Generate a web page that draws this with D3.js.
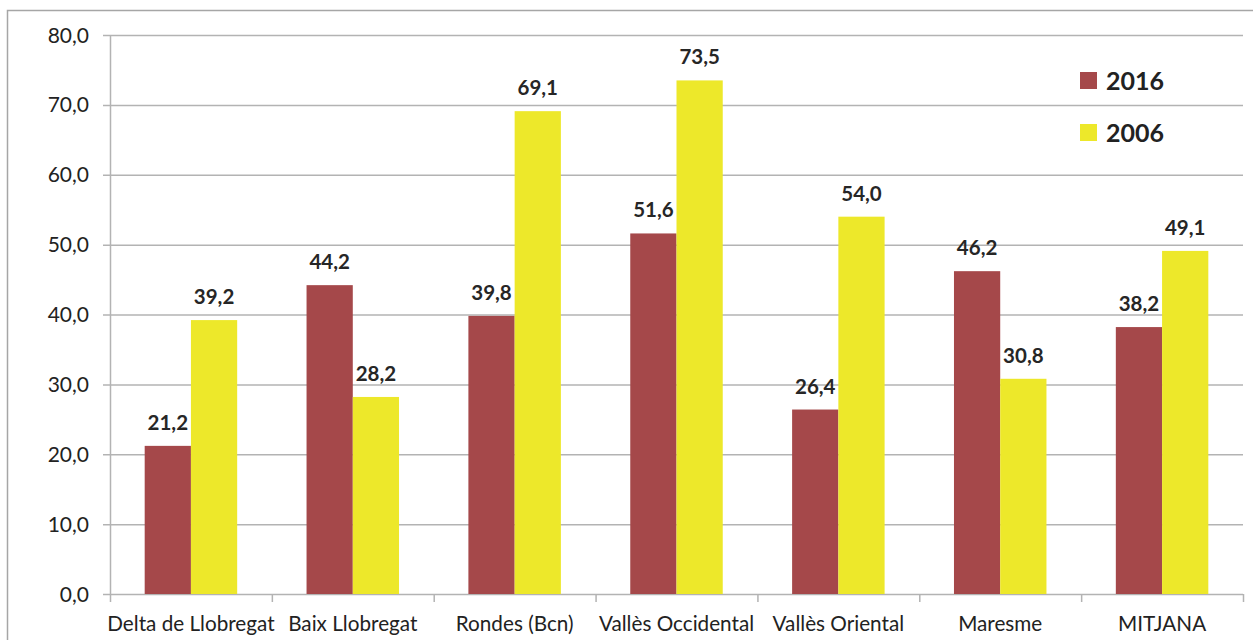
<!DOCTYPE html>
<html>
<head>
<meta charset="utf-8">
<script src="https://cdn.jsdelivr.net/npm/d3@7"></script>
<style>
  body { margin: 0; background: #fff; }
  svg { display: block; font-family: Lato, "Liberation Sans", sans-serif; }
</style>
</head>
<body>
<script>
// data
var categories = ["Delta de Llobregat", "Baix Llobregat", "Rondes (Bcn)", "Vallès Occidental", "Vallès Oriental", "Maresme", "MITJANA"];
var years = ["2016", "2006"];
var v2016 = [21.2, 44.2, 39.8, 51.6, 26.4, 46.2, 38.2];
var v2006 = [39.2, 28.2, 69.1, 73.5, 54.0, 30.8, 49.1];
var yTicks = [0, 10, 20, 30, 40, 50, 60, 70, 80];
var colors = { "2016": "#a5484a", "2006": "#ede82a" };

var W = 1253, H = 640;
var m = { left: 110, top: 35 };
var pw = 1243 - m.left, ph = 594 - m.top;

var svg = d3.select("body").append("svg").attr("width", W).attr("height", H);

// outer frame
svg.append("rect")
  .attr("x", 7.5).attr("y", 10.5)
  .attr("width", W + 10).attr("height", H + 10)
  .attr("fill", "none").attr("stroke", "#a6a6a6").attr("stroke-width", 1.5);

var g = svg.append("g").attr("transform", "translate(" + m.left + "," + m.top + ")");

var x = d3.scaleBand().domain(categories).range([0, pw]).paddingInner(0).paddingOuter(0);
var x1 = d3.scaleBand().domain(years).range([x.bandwidth() * 0.2143, x.bandwidth() * 0.7857]);
var y = d3.scaleLinear().domain([0, 80]).range([ph, 0]);

var fmt = function(d) { return d3.format(".1f")(d).replace(".", ","); };

// grid
g.selectAll(".grid").data(yTicks).enter().append("line")
  .attr("x1", -7).attr("x2", pw)
  .attr("y1", d => y(d) + 0.5).attr("y2", d => y(d) + 0.5)
  .attr("stroke", "#b3b3b3").attr("stroke-width", 1.5);

// y axis labels
g.selectAll(".ylab").data(yTicks).enter().append("text")
  .attr("x", -21).attr("y", d => y(d)).attr("dy", "0.36em")
  .attr("text-anchor", "end")
  .attr("font-size", 21).attr("fill", "#222")
  .text(fmt);

// axis line
g.append("line").attr("x1", 0.5).attr("x2", 0.5).attr("y1", 0).attr("y2", ph)
  .attr("stroke", "#b3b3b3").attr("stroke-width", 1.5);

// x ticks
var bounds = categories.map(c => x(c)).concat([pw]);
g.selectAll(".xt").data(bounds).enter().append("line")
  .attr("x1", d => d + 0.5).attr("x2", d => d + 0.5)
  .attr("y1", ph).attr("y2", ph + 8)
  .attr("stroke", "#b3b3b3").attr("stroke-width", 1.5);

var rows = categories.map((c, i) => ({ cat: c, vals: [{ k: "2016", v: v2016[i] }, { k: "2006", v: v2006[i] }] }));

var grp = g.selectAll(".grp").data(rows).enter().append("g")
  .attr("transform", d => "translate(" + x(d.cat) + ",0)");

grp.selectAll("rect").data(d => d.vals).enter().append("rect")
  .attr("x", d => x1(d.k)).attr("width", x1.bandwidth())
  .attr("y", d => y(d.v)).attr("height", d => ph - y(d.v))
  .attr("fill", d => colors[d.k]);

grp.selectAll(".val").data(d => d.vals).enter().append("text")
  .attr("x", d => x1(d.k) + x1.bandwidth() / 2)
  .attr("y", d => y(d.v) - 16)
  .attr("text-anchor", "middle")
  .attr("font-size", 20.5).attr("font-weight", "bold").attr("fill", "#262626")
  .text(d => fmt(d.v));

// category labels
g.selectAll(".cat").data(categories).enter().append("text")
  .attr("x", d => x(d) + x.bandwidth() / 2).attr("y", ph + 37)
  .attr("text-anchor", "middle")
  .attr("font-size", 20.7).attr("fill", "#222")
  .text(d => d);

// legend
var lg = svg.append("g").attr("transform", "translate(1080,72)");
var li = lg.selectAll("g").data(years).enter().append("g")
  .attr("transform", (d, i) => "translate(0," + i * 52 + ")");
li.append("rect").attr("width", 17).attr("height", 17).attr("fill", d => colors[d]);
li.append("text").attr("x", 26).attr("y", 17.5)
  .attr("font-size", 25).attr("font-weight", "bold").attr("fill", "#222")
  .text(d => d);
</script>
</body>
</html>
